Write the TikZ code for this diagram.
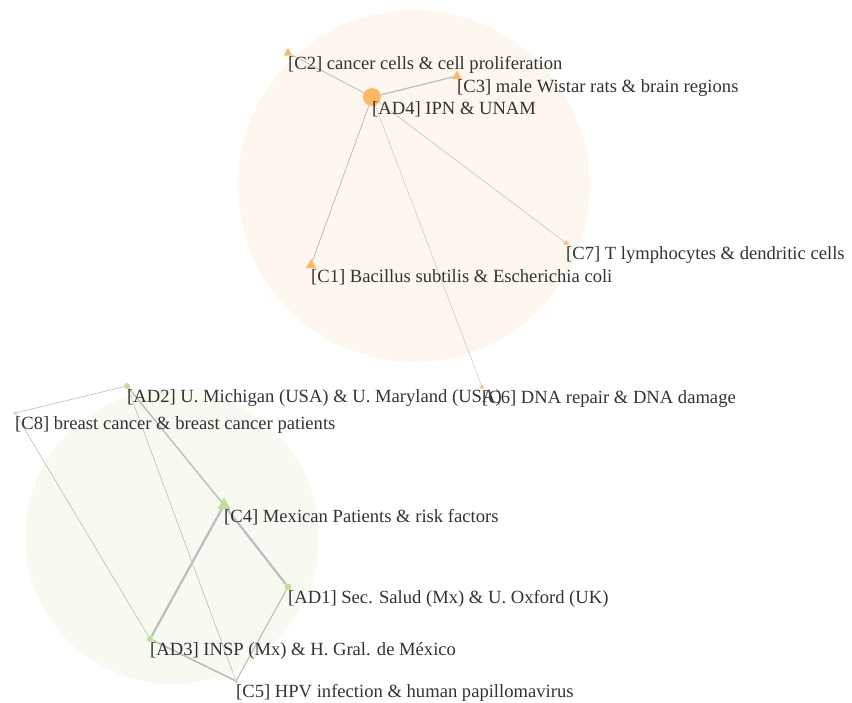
\documentclass[tikz,border=0pt]{standalone}
\usepackage{fontspec}
\setmainfont{Liberation Serif}
\usetikzlibrary{shapes.geometric}
\definecolor{orgnode}{HTML}{FDB863}
\definecolor{orgzone}{HTML}{FEF7EF}
\definecolor{grnnode}{HTML}{BCE38F}
\definecolor{grnzone}{HTML}{F6FAF0}
\definecolor{edgegray}{HTML}{BDBDBD}
\definecolor{txtgray}{HTML}{333333}

\begin{document}
\begin{tikzpicture}[x=1pt,y=-1pt,
    lbl/.style={anchor=west,inner sep=0pt,text=txtgray,font=\fontsize{18.6}{20}\selectfont},
    cnode/.style={regular polygon,regular polygon sides=3,inner sep=0pt,minimum size=#1},
    adnode/.style={circle,inner sep=0pt,minimum size=#1},
    lnk/.style={draw=edgegray,line width=#1}]
  \useasboundingbox (0,0) rectangle (852,702);
  % cluster zones
  \fill[orgzone] (414,186) circle (176);
  \fill[grnzone] (172,537) circle (147);
  % nodes
  \node[adnode=18,fill=orgnode] (ad4) at (372,97) {};
  \foreach \n/\x/\y/\s in {c2/288/53/10, c3/457/76/11, c7/566/243/6, c1/311/265/12, c6/482/387/5}
    \node[cnode=\s,fill=orgnode] (\n) at (\x,\y) {};
  \foreach \n/\x/\y/\s in {ad2/127/386/6, ad1/288/587/7, ad3/150/639/6}
    \node[adnode=\s,fill=grnnode] (\n) at (\x,\y) {};
  \foreach \n/\x/\y/\s in {c8/15/413/4, c4/224/505/15, c5/236/681/5}
    \node[cnode=\s,fill=grnnode] (\n) at (\x,\y) {};
  % links
  \foreach \a/\b/\w in {ad4/c2/0.8, ad4/c3/1.2, ad4/c1/0.8, ad4/c7/0.5, ad4/c6/0.4,
      ad2/c4/1.4, c4/ad3/2.2, c4/ad1/2.2, ad3/c5/1.6, ad1/c5/1.1,
      ad2/c5/0.6, ad2/c8/0.6, c8/ad3/0.6}
    \draw[lnk=\w] (\a) -- (\b);
  % labels
  \foreach \n/\t in {ad4/{[AD4] IPN \& UNAM},
      c2/{[C2] cancer cells \& cell proliferation},
      c3/{[C3] male Wistar rats \& brain regions},
      c7/{[C7] T lymphocytes \& dendritic cells},
      c1/{[C1] Bacillus subtilis \& Escherichia coli},
      c6/{[C6] DNA repair \& DNA damage},
      ad2/{[AD2] U. Michigan (USA) \& U. Maryland (USA)},
      c8/{[C8] breast cancer \& breast cancer patients},
      c4/{[C4] Mexican Patients \& risk factors},
      ad1/{[AD1] Sec. Salud (Mx) \& U. Oxford (UK)},
      ad3/{[AD3] INSP (Mx) \& H. Gral. de México},
      c5/{[C5] HPV infection \& human papillomavirus}}
    \node[lbl] (\n-l) at ([yshift=-12pt]\n.center) {\t};
\end{tikzpicture}
\end{document}
